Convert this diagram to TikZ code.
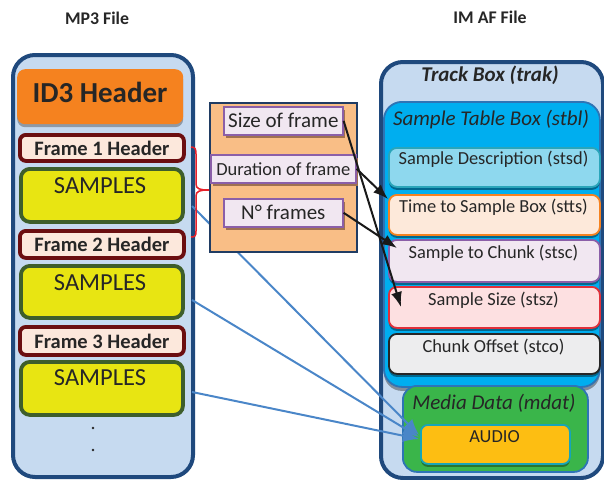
\documentclass[tikz,border=0pt]{standalone}
\usepackage{fontspec}
\setmainfont{Carlito}
\usetikzlibrary{arrows.meta,shadows}
\definecolor{paleblue}{HTML}{C6DAF0}
\definecolor{navy}{HTML}{1F497D}
\definecolor{navyline}{HTML}{203C63}
\definecolor{id3orange}{HTML}{F5821F}
\definecolor{hdrfill}{HTML}{FCE8DC}
\definecolor{hdrline}{HTML}{6B0E10}
\definecolor{smpfill}{HTML}{E8E512}
\definecolor{smpline}{HTML}{3E5E2B}
\definecolor{midfill}{HTML}{F9BE86}
\definecolor{lavfill}{HTML}{F1E7F1}
\definecolor{lavline}{HTML}{8B5FA8}
\definecolor{lavshadow}{HTML}{A0714F}
\definecolor{stblfill}{HTML}{00AEEF}
\definecolor{stblline}{HTML}{2E74B5}
\definecolor{stsdfill}{HTML}{8ED8EE}
\definecolor{stsdline}{HTML}{2AA5BA}
\definecolor{sttsfill}{HTML}{FDE9DA}
\definecolor{sttsline}{HTML}{F58220}
\definecolor{stszfill}{HTML}{FDE0E1}
\definecolor{stszline}{HTML}{E0303A}
\definecolor{stcofill}{HTML}{EDEDEE}
\definecolor{mdatfill}{HTML}{3AB54A}
\definecolor{audiofill}{HTML}{FDBE12}
\definecolor{audioline}{HTML}{17A5B8}
\definecolor{bluearrow}{HTML}{4A86C8}
\definecolor{bracered}{HTML}{E8202A}
\definecolor{txt}{HTML}{262626}
\newcommand\bx[6]{\node[#6, anchor=north west, minimum width=#4, minimum height=#5, inner sep=0pt] (#1) at (#2,#3) {};}
\begin{document}
\begin{tikzpicture}[x=1pt,y=-1pt,
  every node/.style={text=txt},
  outerbox/.style={draw=navy, line width=4pt, fill=paleblue, rounded corners=22pt},
  id3box/.style={fill=id3orange, rounded corners=8pt, drop shadow={shadow xshift=0pt, shadow yshift=-3pt, opacity=0.45, fill=black!70}},
  hdrbox/.style={draw=hdrline, fill=hdrfill, line width=3.8pt, rounded corners=6pt},
  smpbox/.style={draw=smpline, fill=smpfill, line width=3.8pt, rounded corners=9pt},
  midbox/.style={draw=navyline, fill=midfill, line width=1.8pt},
  lavbox/.style={draw=lavline, fill=lavfill, line width=1.6pt, drop shadow={shadow xshift=2pt, shadow yshift=-3pt, opacity=1, fill=lavshadow}},
  stblbox/.style={draw=stblline, fill=stblfill, line width=1.8pt, rounded corners=18pt, drop shadow={shadow xshift=0pt, shadow yshift=-4pt, opacity=0.35, fill=black}},
  subbox/.style={line width=1.8pt, rounded corners=8pt, drop shadow={shadow xshift=0pt, shadow yshift=-3pt, opacity=0.4, fill=black}},
  mdatbox/.style={draw=stblline, fill=mdatfill, line width=1.8pt, rounded corners=14pt},
  audiobox/.style={draw=audioline, fill=audiofill, line width=1.8pt, rounded corners=7pt, drop shadow={shadow xshift=0pt, shadow yshift=-3pt, opacity=0.35, fill=black}},
  title/.style={font=\bfseries\fontsize{17.8}{20}\selectfont},
  hdrtext/.style={font=\bfseries\fontsize{20.5}{23}\selectfont},
  smptext/.style={font=\fontsize{24.5}{27}\selectfont},
  lavtext/.style={font=\fontsize{21}{24}\selectfont},
  subtext/.style={font=\fontsize{18.4}{21}\selectfont},
  blueline/.style={draw=bluearrow, line width=2pt, -{Latex[length=16pt,width=13pt]}},
  blackarrow/.style={draw=black!90, line width=2pt, -{Latex[length=15pt,width=11pt]}}
]
\useasboundingbox (0,0) rectangle (604,479);

% titles
\node[title] (mp3title) at (97,18) {MP3 File};
\node[title] (imaftitle) at (490,17) {IM AF File};

% ---------- MP3 file ----------
\bx{mp3}{11}{53}{180}{422}{outerbox}
\bx{id3}{17}{69}{166}{55}{id3box}
\node[font=\bfseries\fontsize{29}{33}\selectfont] (id3t) at (100,92) {ID3 Header};

\bx{f1h}{18}{133}{164}{26}{hdrbox}
\node[hdrtext] (f1ht) at (f1h.center) {Frame 1 Header};
\bx{s1}{19}{167}{162}{53}{smpbox}
\node[smptext] (s1t) at (100,186) {SAMPLES};

\bx{f2h}{18}{229}{164}{27}{hdrbox}
\node[hdrtext] (f2ht) at (f2h.center) {Frame 2 Header};
\bx{s2}{19}{264}{162}{52}{smpbox}
\node[smptext] (s2t) at (100,283) {SAMPLES};

\bx{f3h}{18}{325}{164}{28}{hdrbox}
\node[hdrtext] (f3ht) at (f3h.center) {Frame 3 Header};
\bx{s3}{19}{360}{162}{53}{smpbox}
\node[smptext] (s3t) at (100,378) {SAMPLES};

\fill[txt] (93,428) circle (1.3pt) coordinate (dot1);
\fill[txt] (93,450) circle (1.3pt) coordinate (dot2);

% ---------- IM AF file ----------
\bx{trak}{379}{60}{222}{416}{outerbox}
\node[font=\bfseries\itshape\fontsize{21}{24}\selectfont] (trakt) at (490,75) {Track Box (trak)};
\bx{stbl}{383}{101}{216}{285}{stblbox}
\node[font=\itshape\fontsize{21}{24}\selectfont] (stblt) at (491,120) {Sample Table Box (stbl)};

\bx{stsd}{388}{147}{211}{39}{subbox, draw=stsdline, fill=stsdfill}
\node[subtext] (stsdt) at (493.5,159) {Sample Description (stsd)};
\bx{stts}{388}{194}{211}{40}{subbox, draw=sttsline, fill=sttsfill}
\node[subtext] (sttst) at (493.5,207) {Time to Sample Box (stts)};
\bx{stsc}{388}{239}{211}{42}{subbox, draw=lavline, fill=lavfill}
\node[subtext] (stsct) at (493.5,253) {Sample to Chunk (stsc)};
\bx{stsz}{388}{286}{211}{41}{subbox, draw=stszline, fill=stszfill}
\node[subtext] (stszt) at (493.5,300) {Sample Size (stsz)};
\bx{stco}{388}{333}{211}{40}{subbox, draw=black!85, fill=stcofill}
\node[subtext] (stcot) at (493.5,347) {Chunk Offset (stco)};

\bx{mdat}{402}{385}{185}{86}{mdatbox}
\node[font=\itshape\fontsize{21}{24}\selectfont] (mdatt) at (494,403) {Media Data (mdat)};
\bx{audio}{420}{424}{149}{39}{audiobox}
\node[subtext] (audiot) at (494.5,437) {AUDIO};

% ---------- blue connectors ----------
\coordinate (b1) at (192,206);
\coordinate (b2) at (192,300);
\coordinate (b3) at (192,392);
\coordinate (e1) at (419,435);
\coordinate (e2) at (419,437);
\coordinate (e3) at (419,439);
\draw[blueline] (b1) -- (e1);
\draw[blueline] (b2) -- (e2);
\draw[blueline] (b3) -- (e3);

% ---------- frame header fields ----------
\bx{mid}{209}{102}{147}{149}{midbox}
\bx{sof}{223}{106}{119}{28}{lavbox}
\node[lavtext] (soft) at (sof.center) {Size of frame};
\bx{dof}{210}{154}{145}{28}{lavbox}
\node[font=\fontsize{18.5}{21}\selectfont] (doft) at (dof.center) {Duration of frame};
\bx{nof}{223}{198}{119}{28}{lavbox}
\node[lavtext] (noft) at (nof.center) {N° frames};

% red brace
\draw[bracered, line width=1.5pt]
  (191,147) .. controls (195,147) and (196,149) .. (196,154) -- (196,184)
  .. controls (196,189) and (200,190) .. (209,190)
  .. controls (200,190) and (196,191) .. (196,196) -- (196,231)
  .. controls (196,236) and (195,237) .. (191,237);

% ---------- black arrows ----------
\coordinate (k1) at (401,307);
\coordinate (k2) at (388,199);
\coordinate (k3) at (397,248);
\draw[blackarrow] (sof.east) -- (k1);
\draw[blackarrow] (dof.east) -- (k2);
\draw[blackarrow] (nof.east) -- (k3);
\end{tikzpicture}
\end{document}
